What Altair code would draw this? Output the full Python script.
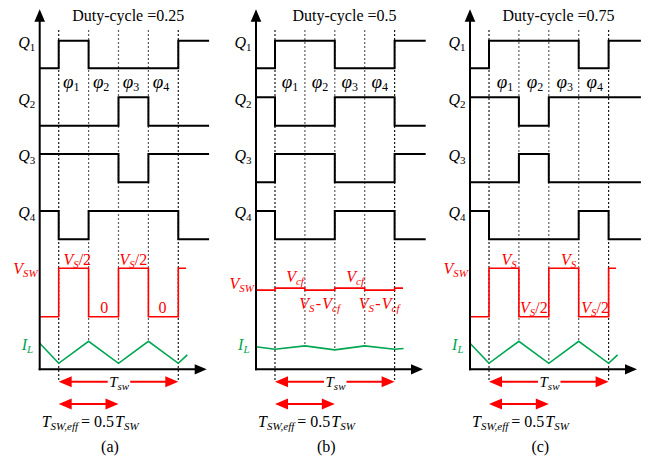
import altair as alt
import pandas as pd

# ---------------- data ----------------
panels = ["a", "b", "c"]
titles = ["Duty-cycle =0.25", "Duty-cycle =0.5", "Duty-cycle =0.75"]
captions = ["(a)", "(b)", "(c)"]

# gate states per segment: [before φ1, φ1, φ2, φ3, φ4, after]
q1 = [[0, 1, 0, 0, 0, 1], [0, 1, 1, 0, 0, 1], [0, 1, 1, 1, 0, 1]]
q2 = [[0, 0, 0, 1, 0, 0], [1, 0, 0, 1, 1, 0], [1, 1, 0, 1, 1, 1]]
q3 = [[1, 1, 1, 0, 1, 1], [0, 1, 1, 0, 0, 1], [0, 0, 1, 0, 0, 0]]
q4 = [[1, 0, 1, 1, 1, 0], [1, 0, 0, 1, 1, 0], [1, 0, 0, 0, 1, 0]]
gates = [q1, q2, q3, q4]

# switch-node voltage level per segment (1 = upper level)
vsw = [[0, 1, 0, 1, 0, 1],
       [0.55, 0.59, 0.55, 0.59, 0.55, 0.59],
       [0, 1, 0, 1, 0, 1]]
vsw_end = [4.26, 4.28, 4.25]

# inductor current at phase instants (1 = peak of panel a)
il_t = [-0.635, 0, 1, 2, 3, 4, 4.3]
il = [[0.91, 0, 1, 0, 1, 0, 0.38],
      [0.75, 0.64, 0.79, 0.61, 0.79, 0.64, 0.67],
      [0.91, 0, 1, 0, 1, 0, 0.38]]

phase_marks = [0, 1, 2, 3, 4]
phase_names = ["1", "2", "3", "4"]

vsw_hi_text = [[("V", "I"), ("S", "s"), ("/2", "R")],
               [("V", "I"), ("cf", "s")],
               [("V", "I"), ("S", "s")]]
vsw_lo_text = [[("0", "R")],
               [("V", "I"), ("S", "s"), (" ", "g"), ("-", "R"), (" ", "g"), ("V", "I"), ("cf", "s")],
               [("V", "I"), ("S", "s"), ("/2", "R")]]
vsw_hi_t = [[0.62, 2.5], [0.67, 2.68], [0.67, 2.66]]
vsw_lo_t = [[1.52, 3.47], [1.49, 3.48], [1.5, 3.55]]

# ---------------- layout ----------------
U = 29.9
P0 = [58.7, 275.0, 489.0]
AX = [p - 19 for p in P0]
T_START = -0.635
T_END = [5.03, 5.04, 5.08]
ROW_HI = [40.7, 97.3, 154.0, 211.0]
ROW_LO = [68.3, 125.7, 182.3, 239.3]
VSW_HI, VSW_LO = 268.3, 316.7
IL_LO, IL_HI = 363.3, 341.3
AXIS_Y = 369.3
TSW_Y, TEFF_Y = 381.7, 404.0
RED = "#ff0000"
GREEN = "#00a651"
BLACK = "#000000"

REG = {'.': .25, '=': .564, ' ': .25, '/': .278, '-': .333, '(': .333, ')': .333,
       'a': .444, 'b': .5, 'c': .444, ',': .25, 'D': .722, 'u': .5, 't': .278,
       'y': .5, 'l': .278, 'e': .444}
ITA = {'V': .611, 'S': .5, 'W': .833, 'T': .556, 'Q': .722, 'I': .333, 'L': .556,
       'c': .444, 'f': .278, 'e': .444, 's': .389, 'w': .667, ',': .25, 'φ': .55}


def width(txt, italic, size):
    tab = ITA if italic else REG
    return sum(tab.get(ch, .5) for ch in txt) * size


def layout(pieces, x, y, anchor, color, main=16, sub=11):
    items = []
    for txt, kind in pieces:
        if kind == "k":  # kerning adjustment in px
            items.append(("", False, 0, 0, float(txt)))
            continue
        italic = kind in ("I", "s")
        size = sub if kind in ("s", "r") else main
        if kind == "g":
            size = 5
        dy = 3 if kind in ("s", "r") else 0
        items.append((txt, italic, size, dy, width(txt, italic, size)))
    total = sum(it[4] for it in items)
    cur = x - total / 2 if anchor == "center" else (x - total if anchor == "right" else x)
    out = []
    for txt, italic, size, dy, w in items:
        if txt.strip():
            out.append(dict(x=cur, y=y + dy, text=txt, size=size,
                            italic=italic, color=color))
        cur += w
    return out


q_rows, v_rows, i_rows, dots, rules, heads, texts = [], [], [], [], [], [], []
for p in range(3):
    P, A = P0[p], AX[p]
    ts = [T_START, 0, 1, 2, 3, 4, T_END[p]]
    for g in range(4):
        st = gates[g][p] + [gates[g][p][-1]]
        for j, (t, v) in enumerate(zip(ts, st)):
            q_rows.append(dict(x=P + t * U, y=ROW_LO[g] - v * (ROW_LO[g] - ROW_HI[g]),
                               grp=f"{p}-{g}", o=j))
    vts = [T_START, 0, 1, 2, 3, 4, vsw_end[p]]
    vs = vsw[p] + [vsw[p][-1]]
    for j, (t, v) in enumerate(zip(vts, vs)):
        v_rows.append(dict(x=P + t * U, y=VSW_LO - v * (VSW_LO - VSW_HI), grp=str(p), o=j))
    il_y = {}
    for j, (t, v) in enumerate(zip(il_t, il[p])):
        yy = IL_LO - v * (IL_LO - IL_HI)
        il_y[t] = yy
        i_rows.append(dict(x=P + t * U, y=yy, grp=str(p), o=j))
    for t in phase_marks:
        outer = t in (0, 4)
        dots.append(dict(x=P + t * U, y=30, y2=TSW_Y if outer else il_y[t],
                         color="#1a1a1a" if outer else "#5e5e5e"))
    # axes
    rules.append(dict(x=A, x2=A, y=18, y2=AXIS_Y + 1, color=BLACK, w=2))
    rules.append(dict(x=A - 1, x2=P + 138, y=AXIS_Y, y2=AXIS_Y, color=BLACK, w=2))
    heads.append(dict(x=A, y=15.5, angle=270, size=156, color=BLACK))
    heads.append(dict(x=P + 142, y=AXIS_Y, angle=0, size=144, color=BLACK))
    # red period arrows
    rules.append(dict(x=P + 6, x2=P + 49, y=TSW_Y, y2=TSW_Y, color=RED, w=2))
    rules.append(dict(x=P + 71.5, x2=P + 4 * U - 6, y=TSW_Y, y2=TSW_Y, color=RED, w=2))
    rules.append(dict(x=P + 6, x2=P + 2 * U - 6, y=TEFF_Y, y2=TEFF_Y, color=RED, w=2))
    for yy, t_end in ((TSW_Y, 4), (TEFF_Y, 2)):
        heads.append(dict(x=P + 6.5, y=yy, angle=180, size=169, color=RED))
        heads.append(dict(x=P + t_end * U - 6.5, y=yy, angle=0, size=169, color=RED))

    # texts
    texts += layout([(titles[p], "R")], P + 69.5, 20.5, "center", BLACK)
    for g in range(4):
        texts += layout([("Q", "I"), (str(g + 1), "r")], A - 4.5, ROW_HI[g] + 7.3, "right", BLACK)
    texts += layout([("V", "I"), ("SW", "s")], A - 2, [273.5, 289.0, 273.5][p], "right", RED)
    texts += layout([("I", "I"), ("L", "s")], A - 6.5, 349.5, "right", GREEN)
    phi_off = [12.5, 15.0, 16.0][p]
    for k, nm in enumerate(phase_names):
        texts += layout([("φ", "I"), (nm, "r")], P + phi_off + k * U, 88.0, "center", BLACK,
                        main=19, sub=12)
    hi_base = [265.0, 281.7, 265.0][p]
    lo_base = [313.3, 308.5, 313.0][p]
    for t in vsw_hi_t[p]:
        texts += layout(vsw_hi_text[p], P + t * U, hi_base, "center", RED)
    for t in vsw_lo_t[p]:
        texts += layout(vsw_lo_text[p], P + t * U, lo_base, "center", RED)
    texts += layout([("T", "I"), ("sw", "s")], P + 60.5, 387.3, "center", BLACK, main=15)
    texts += layout([("T", "I"), ("SW,eff", "s"), ("2", "k"), (" = 0.5", "R"), ("-3", "k"),
                     ("T", "I"), ("SW", "s")],
                    P - 17, 427, "left", BLACK)
    texts += layout([(captions[p], "R")], P + 51.3, 452, "center", BLACK)

qdf = pd.DataFrame(q_rows)
vdf = pd.DataFrame(v_rows)
idf = pd.DataFrame(i_rows)
ddf = pd.DataFrame(dots)
rdf = pd.DataFrame(rules)
hdf = pd.DataFrame(heads)
tdf = pd.DataFrame(texts)

xs = alt.Scale(domain=[8, 643], nice=False, zero=False)
ys = alt.Scale(domain=[8, 462], reverse=True, nice=False, zero=False)
X = alt.X("x:Q", scale=xs, axis=None)
Y = alt.Y("y:Q", scale=ys, axis=None)
FONT = "'Liberation Serif', 'Times New Roman', Times, serif"

dotted = alt.Chart(ddf).mark_rule(strokeDash=[2, 2], strokeWidth=1.2).encode(
    x=X, y=Y, y2="y2:Q", color=alt.Color("color:N", scale=None))
qlines = alt.Chart(qdf).mark_line(interpolate="step-after", strokeWidth=2, color=BLACK).encode(
    x=X, y=Y, detail="grp:N", order="o:Q")
vlines = alt.Chart(vdf).mark_line(interpolate="step-after", strokeWidth=1.6, color=RED).encode(
    x=X, y=Y, detail="grp:N", order="o:Q")
ilines = alt.Chart(idf).mark_line(strokeWidth=1.6, color=GREEN).encode(
    x=X, y=Y, detail="grp:N", order="o:Q")
solid = alt.Chart(rdf).mark_rule().encode(
    x=X, x2="x2:Q", y=Y, y2="y2:Q",
    color=alt.Color("color:N", scale=None),
    strokeWidth=alt.StrokeWidth("w:Q", scale=None))
arrows = alt.Chart(hdf).mark_point(
    shape="M1,0L-1,-0.85L-1,0.85Z", filled=True, opacity=1, strokeWidth=0).encode(
    x=X, y=Y, angle=alt.Angle("angle:Q", scale=None),
    size=alt.Size("size:Q", scale=None),
    color=alt.Color("color:N", scale=None))
t_reg = alt.Chart(tdf[~tdf["italic"]]).mark_text(
    font=FONT, align="left", baseline="alphabetic").encode(
    x=X, y=Y, text="text:N", size=alt.Size("size:Q", scale=None),
    color=alt.Color("color:N", scale=None))
t_ita = alt.Chart(tdf[tdf["italic"]]).mark_text(
    font=FONT, fontStyle="italic", align="left", baseline="alphabetic").encode(
    x=X, y=Y, text="text:N", size=alt.Size("size:Q", scale=None),
    color=alt.Color("color:N", scale=None))

chart = alt.layer(dotted, qlines, vlines, ilines, solid, arrows, t_reg, t_ita).properties(
    width=635, height=454, padding=0,
    autosize=alt.AutoSizeParams(type="none"),
    background="white",
).configure_view(stroke=None)

chart.save("out.html", embed_options={"renderer": "svg", "actions": False})
